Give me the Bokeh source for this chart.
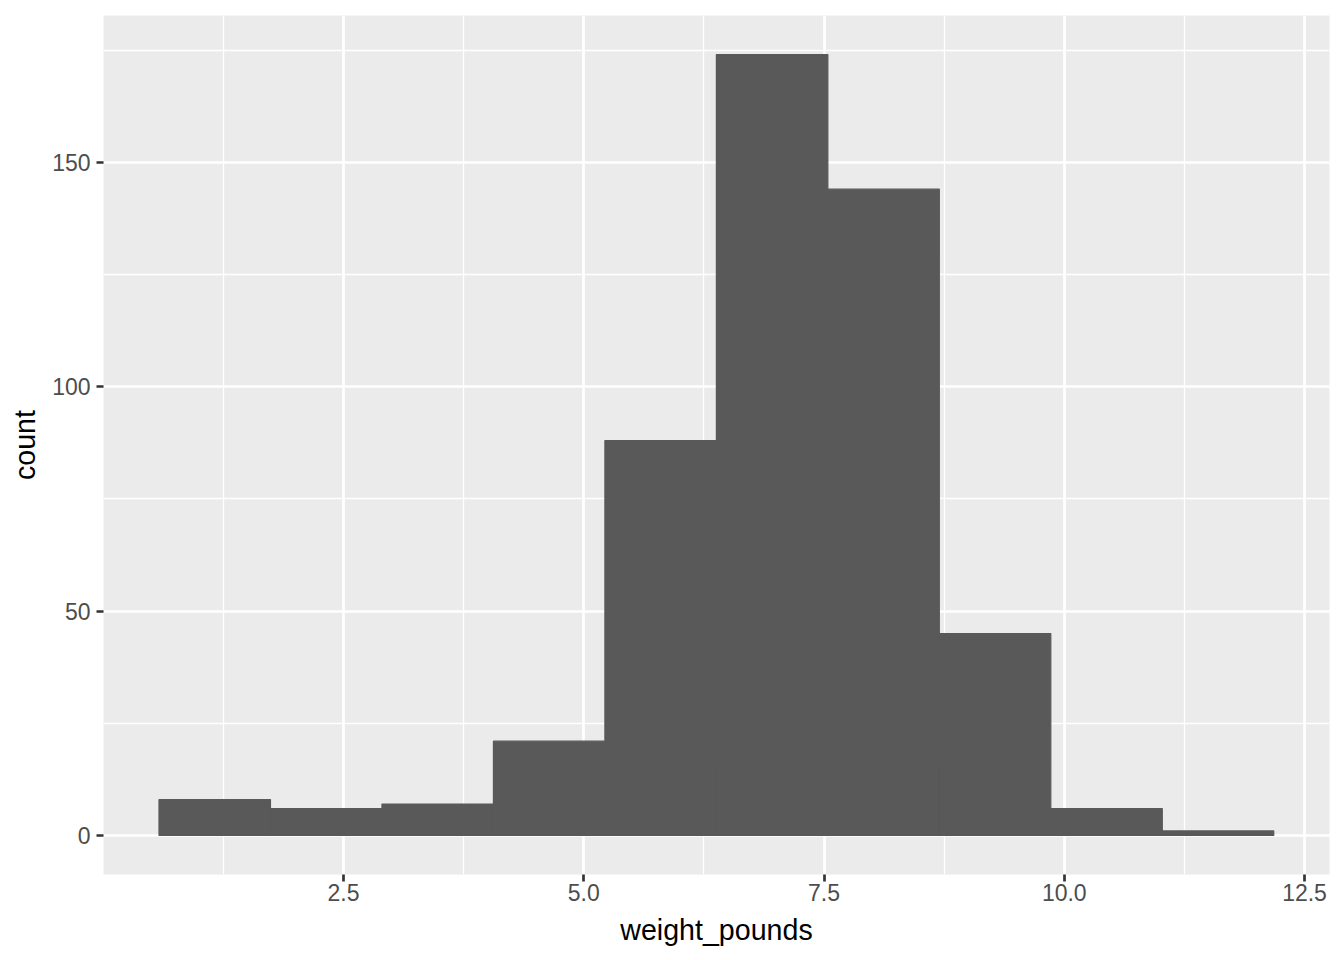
from bokeh.plotting import figure
from bokeh.models import Range1d, FixedTicker, ColumnDataSource
from bokeh.embed import file_html
from bokeh.resources import INLINE

# Histogram data
bin_left = [0.58, 1.74, 2.90, 4.06, 5.22, 6.38, 7.54, 8.70, 9.86, 11.02]
bin_right = [1.74, 2.90, 4.06, 5.22, 6.38, 7.54, 8.70, 9.86, 11.02, 12.18]
counts = [8, 6, 7, 21, 88, 174, 144, 45, 6, 1]

x_ticks = [2.5, 5.0, 7.5, 10.0, 12.5]
x_minor = [1.25, 3.75, 6.25, 8.75, 11.25]
y_ticks = [0, 50, 100, 150]
y_minor = [25, 75, 125, 175]

src = ColumnDataSource(dict(left=bin_left, right=bin_right, top=counts,
                            bottom=[0] * len(counts)))

p = figure(width=1344, height=960, output_backend="svg", toolbar_location=None,
           x_range=Range1d(0.0025, 12.76), y_range=Range1d(-8.7, 182.7),
           min_border_left=103, min_border_right=15, min_border_top=15,
           min_border_bottom=86)

p.background_fill_color = "#EBEBEB"
p.border_fill_color = "white"
p.outline_line_color = None

p.quad(left="left", right="right", top="top", bottom="bottom", source=src,
       fill_color="#595959", line_color="#595959", line_width=1.2)

p.xaxis.ticker = FixedTicker(ticks=x_ticks, minor_ticks=x_minor)
p.yaxis.ticker = FixedTicker(ticks=y_ticks, minor_ticks=y_minor)
p.xaxis.major_label_overrides = {2.5: "2.5", 5.0: "5.0", 7.5: "7.5", 10.0: "10.0", 12.5: "12.5"}

for g in (p.xgrid, p.ygrid):
    g.grid_line_color = "white"
    g.grid_line_width = 2.7
    g.minor_grid_line_color = "white"
    g.minor_grid_line_width = 1.35
    g.level = "underlay"

for ax in (p.xaxis, p.yaxis):
    ax.axis_line_color = None
    ax.major_tick_line_color = "#333333"
    ax.major_tick_line_width = 2.7
    ax.major_tick_out = 7
    ax.major_tick_in = 0
    ax.minor_tick_line_color = None
    ax.major_label_text_font = "Liberation Sans"
    ax.major_label_text_font_size = "23px"
    ax.major_label_text_color = "#4D4D4D"
    ax.axis_label_text_font = "Liberation Sans"
    ax.axis_label_text_font_size = "28.6px"
    ax.axis_label_text_font_style = "normal"
    ax.axis_label_text_color = "black"

p.xaxis.axis_label = "weight_pounds"
p.yaxis.axis_label = "count"
p.xaxis.major_label_standoff = 2
p.yaxis.major_label_standoff = 6
p.xaxis.axis_label_standoff = 10
p.yaxis.axis_label_standoff = 8

open("out.html", "w").write(file_html(p, INLINE))
